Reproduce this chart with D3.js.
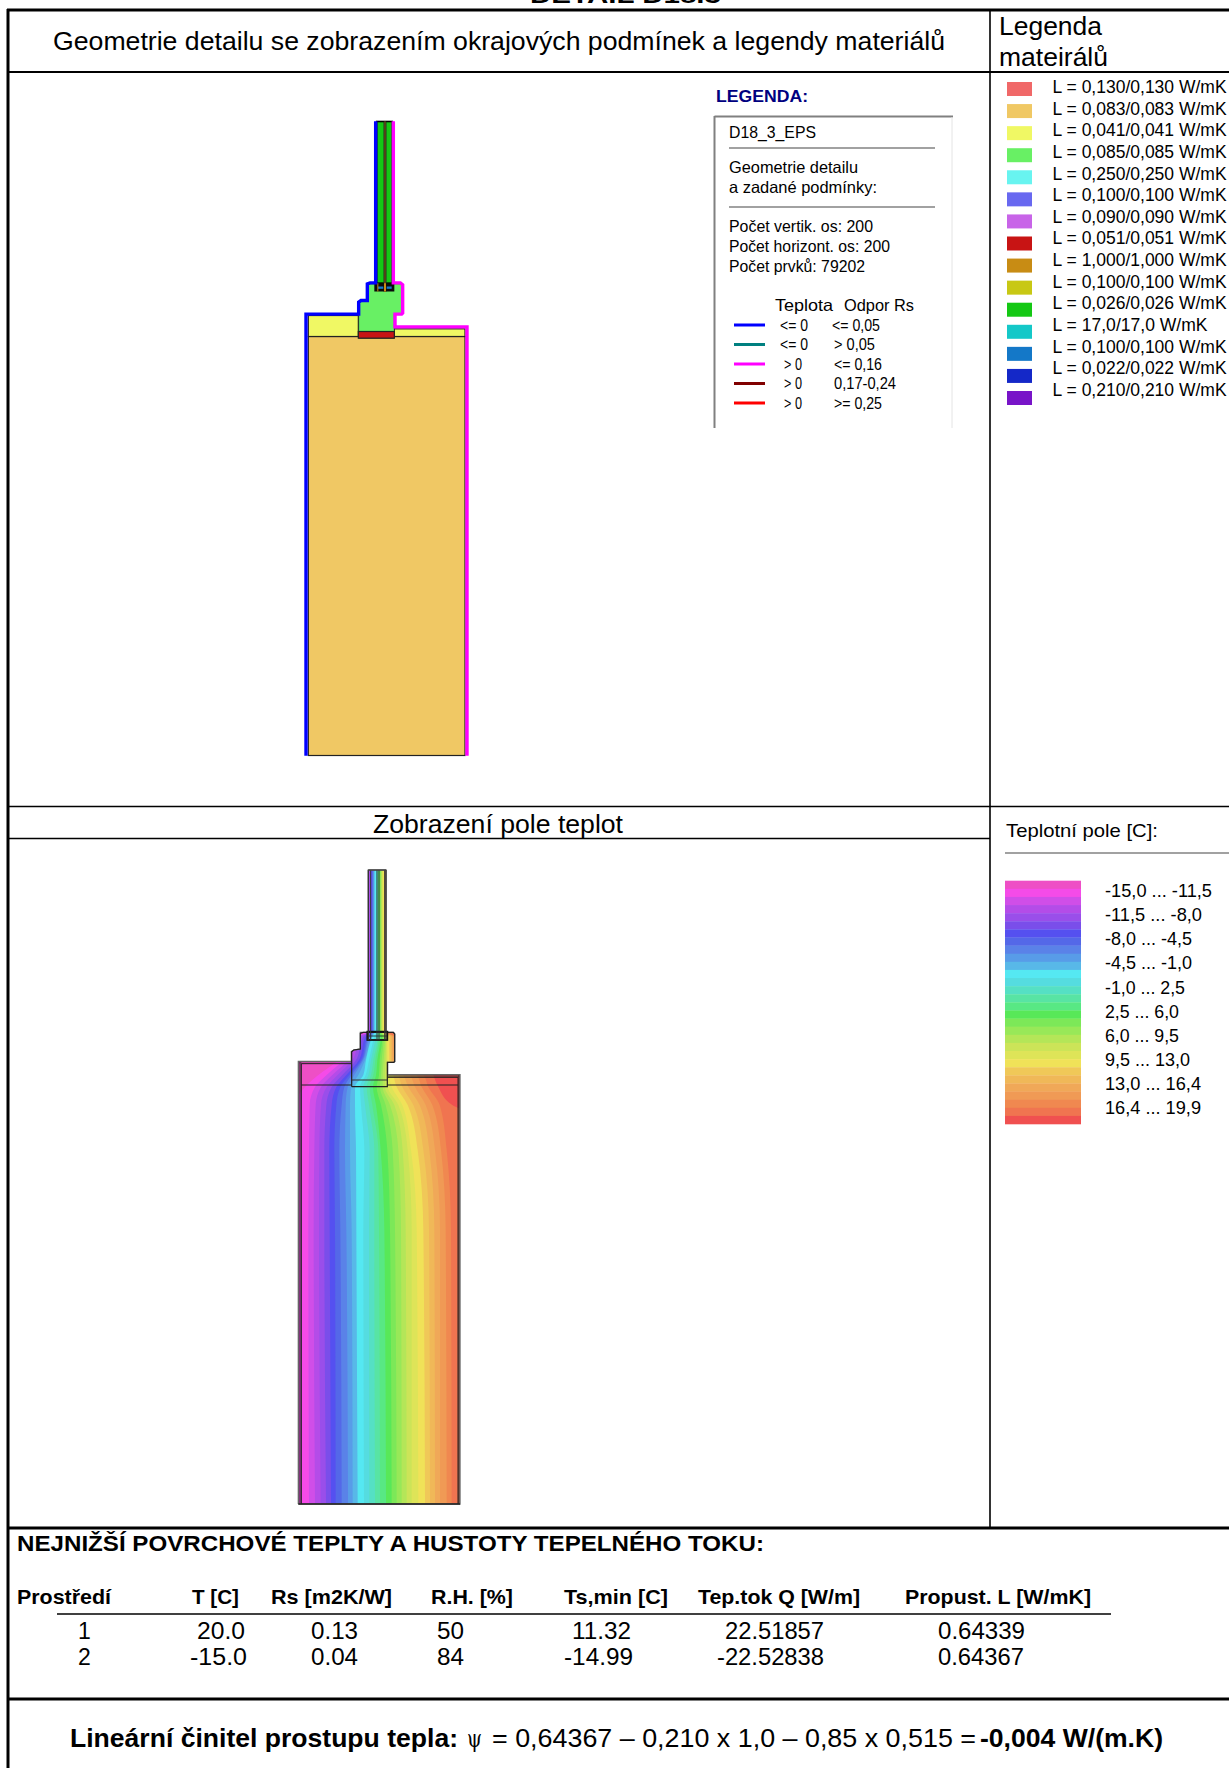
<!DOCTYPE html>
<html><head><meta charset="utf-8">
<style>html,body{margin:0;padding:0;background:#fff;overflow:hidden}svg{display:block}text{font-family:"Liberation Sans",Arial,sans-serif;fill:#000}</style>
<script src="https://cdnjs.cloudflare.com/ajax/libs/d3/7.8.5/d3.min.js"></script>
</head><body><svg id="c" width="1229" height="1768"></svg>
<script>
// ---------- data ----------
const matLabels=["L = 0,130/0,130 W/mK","L = 0,083/0,083 W/mK","L = 0,041/0,041 W/mK","L = 0,085/0,085 W/mK","L = 0,250/0,250 W/mK","L = 0,100/0,100 W/mK","L = 0,090/0,090 W/mK","L = 0,051/0,051 W/mK","L = 1,000/1,000 W/mK","L = 0,100/0,100 W/mK","L = 0,026/0,026 W/mK","L = 17,0/17,0 W/mK","L = 0,100/0,100 W/mK","L = 0,022/0,022 W/mK","L = 0,210/0,210 W/mK"];
const matSwatches=["#f06868","#f0c864","#f0f864","#68f064","#68f4f0","#6868f0","#c864e8","#c81414","#c88c14","#c8c814","#14c814","#14c8c8","#1478c8","#1428c8","#7814c8"];
const rangeLabels=["-15,0 ... -11,5","-11,5 ... -8,0","-8,0 ... -4,5","-4,5 ... -1,0","-1,0 ... 2,5","2,5 ... 6,0","6,0 ... 9,5","9,5 ... 13,0","13,0 ... 16,4","16,4 ... 19,9"];
const fieldColors=["#ee4fc5","#f54be8","#d04ee8","#b44ce8","#9a4eea","#7a4eea","#5550f0","#5468e8","#5a82e8","#589ce8","#58b8e8","#55e8f2","#55dce0","#55e0c4","#58e4a4","#58e884","#58e858","#7ce858","#98e858","#b4e658","#cce458","#dee458","#f0e258","#f0c858","#f0b858","#f0a858","#f09a55","#f08850","#f07450","#f05050"];
const bcTemp=["<= 0","<= 0","> 0","> 0","> 0"];
const bcRs=["<= 0,05","> 0,05","<= 0,16","0,17-0,24",">= 0,25"];
const bcColors=["#0000ff","#008080","#ff00ff","#800000","#ff0000"];
const tableHead=["Prostředí","T [C]","Rs [m2K/W]","R.H. [%]","Ts,min [C]","Tep.tok Q [W/m]","Propust. L [W/mK]"];
const row1=["1","20.0","0.13","50","11.32","22.51857","0.64339"];
const row2=["2","-15.0","0.04","84","-14.99","-22.52838","0.64367"];
// isotherm stations (section height units) and the isotherm positions read at each
const stations=[1332,510,270,135,81,45,0,-70,-85,-570];
const isotherms=[
[0,0,0,0,30,70,130,165,216,216],
[42,40,42,44,60,95,145,178,219,219],
[60,56,58,62,78,112,160,188,222,222],
[77,72,73,78,95,128,172,197,224,224],
[93,88,88,94,110,142,183,205,226,226],
[108,104,103,110,124,154,192,212,229,229],
[122,120,118,124,136,163,198,218,231,231],
[140,136,133,140,148,170,202,222,233,233],
[159,154,150,152,158,178,205,226,235,235],
[173,170,165,165,168,190,210,230,237,237],
[188,184,183,180,180,205,213,232,239,239],
[207,205,208,198,195,212,222,238,243,243],
[223,222,224,210,205,220,228,243,246,246],
[240,238,238,222,215,228,235,248,248,248],
[255,252,250,232,224,235,241,252,249,249],
[273,268,257,243,234,243,247,257,250,250],
[290,285,277,258,245,252,254,262,255,255],
[305,300,293,272,255,258,260,266,257,257],
[320,318,310,285,263,263,266,270,259,259],
[335,332,323,298,270,270,271,273,260,260],
[350,350,338,310,278,276,275,275,262,262],
[370,365,348,322,290,282,278,277,264,264],
[390,385,368,338,305,295,283,282,267,267],
[405,402,385,355,322,310,288,286,268,268],
[420,418,403,374,340,325,292,290,270,270],
[435,435,420,392,360,345,297,294,271,271],
[455,452,438,412,380,365,300,298,273,273],
[470,468,455,434,400,385,303,302,275,275],
[999,999,999,472,430,415,400,400,400,400]];
// section geometry (section units)
const outer=[[10,1332],[10,4],[169,4],[169,-25],[176,-30],[196,-33],[196,-80],[205,-83],[295,-83],[299,-78],[299,5],[296,7],[278,7],[278,44],[495,44],[495,1332],[278,1332]];
const glassOuter=[[220,-83],[220,-570],[273,-570],[273,-83]];
const framePoly=[[170,80],[170,-25],[176,-30],[196,-33],[196,-80],[205,-83],[295,-83],[299,-78],[299,5],[296,7],[277,7],[277,80]];
const blueTrace=[[12,1333],[12,8],[170,8],[170,-28],[177,-33],[196,-33],[196,-83],[204,-86],[221,-86],[221,-571]];
const pinkTrace=[[274,-571],[274,-86],[295,-86],[302,-80],[302,5],[299,8],[279,8],[279,46],[495,46],[495,1333]];
const wallBox={x0:19,x1:489,top:75,bottom:1332,stripL:12,stripR:52,fL:169,fR:277,sillT:60,sillB:80};
const glassBox={x0:217,x1:277,y0:-85,y1:-60,top:-570,l:226,r:269,c0:246,c1:252};

// ---------- helpers ----------
const svg=d3.select("#c");
function T(p,x,y,s,o={}){const size=o.size||16;
 const t=p.append("text").attr("x",x).attr("y",y+size*0.36).attr("font-size",size).text(s);
 if(o.bold)t.attr("font-weight","bold");if(o.fill)t.style("fill",o.fill);
 if(o.w){t.attr("textLength",o.w).attr("lengthAdjust","spacingAndGlyphs");}
 return t;}
function L(x1,y1,x2,y2,w,c="#000"){svg.append("line").attr("x1",x1).attr("y1",y1).attr("x2",x2).attr("y2",y2).attr("stroke",c).attr("stroke-width",w);}

// ---------- frame ----------
L(7,10,1229,10,3);L(8,9,8,1768,3);L(8,72,1229,72,2);L(990,10,990,1528,1.6);
L(8,806.5,1229,806.5,1.3);L(8,838.5,990,838.5,1.3);L(8,1528,1229,1528,3);L(8,1699,1229,1699,3);

// titles
T(svg,530,-5,"DETAIL D18.3",{size:22,bold:true,w:191});
T(svg,53,41,"Geometrie detailu se zobrazením okrajových podmínek a legendy materiálů",{size:26,w:892});
T(svg,999,26,"Legenda",{size:26,w:103});T(svg,999,56.5,"mateirálů",{size:26,w:109});
T(svg,373,824,"Zobrazení pole teplot",{size:26,w:250});

// ---------- section drawings ----------
function section(dx,dy){
 const x=d3.scaleLinear().domain([0,510]).range([295+dx,465+dx]);
 const y=d3.scaleLinear().domain([0,450]).range([1060+dy,1210+dy]);
 return {x,y,line:d3.line().x(d=>x(d[0])).y(d=>y(d[1]))};
}
// upper: materials
(function(){
 const s=section(7,-748.5),g=svg.append("g"),b=wallBox,G=glassBox;
 const rect=(x0,y0,x1,y1,f,st,sw)=>g.append("rect").attr("x",s.x(x0)).attr("y",s.y(y0)).attr("width",s.x(x1)-s.x(x0)).attr("height",s.y(y1)-s.y(y0)).attr("fill",f).attr("stroke",st||"none").attr("stroke-width",sw||0);
 rect(b.x0,b.top,b.x1,b.bottom,matSwatches[1],"#222",1.2);
 rect(b.x0,b.stripL,b.fL,b.top,matSwatches[2],"#222",1.2);
 rect(b.fR,b.stripR,b.x1,b.top,matSwatches[2],"#222",1.2);
 g.append("path").attr("d",s.line(framePoly)+"Z").attr("fill",matSwatches[3]).attr("stroke","#111").attr("stroke-width",.6);
 rect(b.fL,b.sillT,b.fR,b.sillB,matSwatches[7],"#222",1.2);
 rect(G.l-2,G.top,G.r+2,G.y0,matSwatches[10],"#000",1.6);
 rect(G.c0,G.top,G.c1,G.y1,"#7a5a14","none");
 [G.c0,G.c1].forEach(v=>g.append("line").attr("x1",s.x(v)).attr("x2",s.x(v)).attr("y1",s.y(G.top)).attr("y2",s.y(G.y1)).attr("stroke","#222").attr("stroke-width",.9));
 rect(G.x0,G.y0,G.x1,G.y1,"#0a0a0a");
 rect(G.l+2,G.y0+10,G.c0-2,G.y0+17,matSwatches[12]);
 rect(G.c1+2,G.y0+10,G.r,G.y0+17,matSwatches[12]);
 rect(G.l,G.y0,G.l+3,G.y1,matSwatches[8]);
 rect(G.c0,G.y0,G.c1,G.y1,matSwatches[8]);
 g.append("path").attr("d",s.line(blueTrace)).attr("fill","none").attr("stroke","#0000ff").attr("stroke-width",3.4);
 g.append("path").attr("d",s.line(pinkTrace)).attr("fill","none").attr("stroke","#ff00ff").attr("stroke-width",3.4);
})();
// lower: temperature field
(function(){
 const s=section(0,0),g=svg.append("g"),b=wallBox,G=glassBox;
 const full=outer.slice(0,6).concat([[196,-83],[220,-83]],glassOuter.slice(1,3),[[273,-83]],outer.slice(7));
 svg.append("clipPath").attr("id","fld").append("path").attr("d",s.line(full)+"Z");
 const f=g.append("g").attr("clip-path","url(#fld)");
 f.append("rect").attr("x",s.x(0)).attr("y",s.y(-600)).attr("width",s.x(510)-s.x(0)).attr("height",s.y(1340)-s.y(-600)).attr("fill",fieldColors[0]);
 const curve=d3.line().x(d=>s.x(d[0])).y(d=>s.y(d[1])).curve(d3.curveMonotoneY);
 isotherms.forEach((iso,k)=>{
  const pts=iso.map((v,i)=>[v,stations[i]]);
  f.append("path").attr("fill",fieldColors[k+1]).attr("d",curve(pts)+`L${s.x(1100)},${s.y(-570)}L${s.x(1100)},${s.y(1332)}Z`);
 });
 const rr=(x0,y0,x1,y1,c)=>f.append("rect").attr("x",s.x(x0)).attr("y",s.y(y0)).attr("width",s.x(x1)-s.x(x0)).attr("height",s.y(y1)-s.y(y0)).attr("fill",c);
 rr(10,4,19,1332,"rgba(35,35,35,.55)");rr(489,44,495,1332,"rgba(35,35,35,.55)");
 rr(278,44,495,52,"rgba(35,35,35,.5)");rr(10,4,169,11,"rgba(60,40,60,.25)");
 // outlines
 const ln=(pts,w,c)=>g.append("path").attr("d",s.line(pts)).attr("fill","none").attr("stroke",c).attr("stroke-width",w);
 ln(full.concat([full[0]]),1.3,"#666");
 ln([[19,1332],[19,11],[170,11]],1,"#222");
 ln([[19,75],[170,75]],1,"#222");ln([[277,75],[489,75]],1,"#222");
 ln([[278,52],[489,52],[489,1332]],1,"#222");ln([[10,1332],[495,1332]],1.4,"#222");
 ln(framePoly.concat([framePoly[0]]),1.2,"#222");
 ln([[170,60],[277,60]],1.2,"#333");
 g.append("rect").attr("x",s.x(G.x0)).attr("y",s.y(G.y0)).attr("width",s.x(G.x1)-s.x(G.x0)).attr("height",s.y(G.y1)-s.y(G.y0)).attr("fill","none").attr("stroke","#111").attr("stroke-width",1.8);
 ln([[G.x0,-72],[G.x1,-72]],.8,"#111");
 [220,227,G.c0,G.c1,269,273].forEach((v,i)=>ln([[v,G.top],[v,G.y1]],(i==0||i==5)?1.3:1,"#333"));
 ln([[220,G.top],[273,G.top]],1.3,"#444");
})();

// ---------- boundary legend ----------
(function(){
 T(svg,716,96,"LEGENDA:",{size:16.5,bold:true,fill:"#000080",w:92});
 L(714.5,116.5,953,116.5,2,"#808080");L(714.5,116,714.5,428,2,"#808080");L(952,117,952,428,1,"#e4e4e4");
 T(svg,729,132,"D18_3_EPS",{size:16.5,w:87});
 L(729,148,935,148,1.2,"#444");
 T(svg,729,167,"Geometrie detailu",{size:16.5,w:129});
 T(svg,729,187,"a zadané podmínky:",{size:16.5,w:148});
 L(729,207,935,207,1.2,"#444");
 T(svg,729,226,"Počet vertik. os: 200",{size:16.5,w:144});
 T(svg,729,246,"Počet horizont. os: 200",{size:16.5,w:161});
 T(svg,729,266,"Počet prvků: 79202",{size:16.5,w:136});
 T(svg,775,305,"Teplota",{size:16.5,w:58});T(svg,844,305,"Odpor Rs",{size:16.5,w:70});
 const y=d3.scalePoint().domain(d3.range(5)).range([325,403]);
 const tx=[780,780,784,784,784],tw=[28,28,18,18,18],rx=[832,834,834,834,834],rw=[48,41,48,62,48];
 bcColors.forEach((c,i)=>{L(734,y(i),765,y(i),3,c);
  T(svg,tx[i],y(i),bcTemp[i],{size:16,w:tw[i]});T(svg,rx[i],y(i),bcRs[i],{size:16,w:rw[i]});});
})();

// ---------- material legend ----------
(function(){
 const sy=d3.scalePoint().domain(d3.range(15)).range([89,398]);
 const ty=d3.scalePoint().domain(d3.range(15)).range([86.7,389.5]);
 matSwatches.forEach((c,i)=>svg.append("rect").attr("x",1007).attr("y",sy(i)-7).attr("width",25).attr("height",14).attr("fill",c));
 matLabels.forEach((l,i)=>T(svg,1052.6,ty(i),l,{size:17.5,w:i==11?155:174}));
})();

// ---------- temperature legend ----------
(function(){
 T(svg,1006,830,"Teplotní pole [C]:",{size:18.5,w:152});
 L(1005,853,1229,853,1.2,"#444");
 const y=d3.scaleBand().domain(d3.range(fieldColors.length)).range([880.7,1124]);
 fieldColors.forEach((c,i)=>svg.append("rect").attr("x",1005).attr("y",y(i)).attr("width",76).attr("height",y.bandwidth()+.3).attr("fill",c));
 const ry=d3.scalePoint().domain(d3.range(10)).range([890,1107.5]);
 const rw=[107,97,87,87,80,72,72,83,94,94];
 rangeLabels.forEach((l,i)=>T(svg,1105,ry(i),l,{size:19,w:rw[i]+(i>=5?2:0)}));
})();

// ---------- table ----------
T(svg,17,1543,"NEJNIŽŠÍ POVRCHOVÉ TEPLTY A HUSTOTY TEPELNÉHO TOKU:",{size:22,bold:true,w:747});
const headX=[17,192,271,431,564,698,905],headW=[94,47,121,82,104,162,186];
tableHead.forEach((h,i)=>T(svg,headX[i],1597,h,{size:20.5,bold:true,w:headW[i]}));
L(57,1614,1111,1614,1.3);
const r1X=[78,197,311,437,572,725,938],r1W=[0,48,47,27,59,99,87];
const r2X=[78,190,311,437,564,717,938],r2W=[0,57,47,27,69,107,86];
row1.forEach((v,i)=>T(svg,r1X[i],1630.5,v,{size:23,w:r1W[i]}));
row2.forEach((v,i)=>T(svg,r2X[i],1656.5,v,{size:23,w:r2W[i]}));

// ---------- bottom formula ----------
T(svg,70,1738,"Lineární činitel prostupu tepla:",{size:26,bold:true,w:388});
T(svg,467,1738,"ψ",{size:24,w:15}).style("font-family","'DejaVu Serif',serif");
T(svg,492,1738,"= 0,64367 – 0,210 x 1,0 – 0,85 x 0,515 =",{size:26,w:484});
T(svg,980,1738,"-0,004 W/(m.K)",{size:26,bold:true,w:183});
</script></body></html>
